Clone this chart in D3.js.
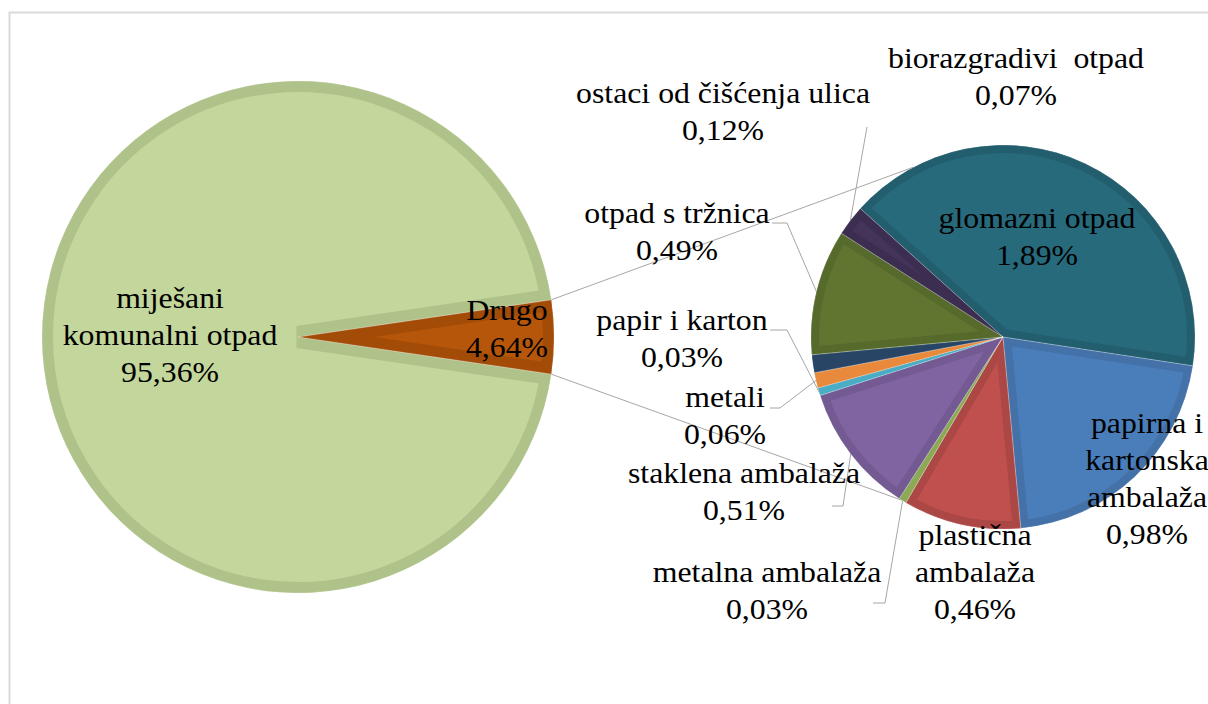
<!DOCTYPE html>
<html>
<head>
<meta charset="utf-8">
<script src="https://cdn.jsdelivr.net/npm/d3@7"></script>
<style>
  html, body { margin: 0; padding: 0; background: #fff; }
  svg { display: block; }
</style>
</head>
<body>
<svg id="chart" width="1208" height="704"></svg>
<script>
// ---------------- DATA ----------------
const mainCategories = ["miješani komunalni otpad", "Drugo"];
const mainValues = [95.36, 4.64];

const subCategories = [
  "glomazni otpad",
  "papirna i kartonska ambalaža",
  "plastična ambalaža",
  "metalna ambalaža",
  "staklena ambalaža",
  "papir i karton",
  "metali",
  "biorazgradivi  otpad",
  "otpad s tržnica",
  "ostaci od čišćenja ulica"
];
const subValues = [1.89, 0.98, 0.46, 0.03, 0.51, 0.03, 0.06, 0.07, 0.49, 0.12];

// ---------------- STYLE / LAYOUT ----------------
const FONT = '"Liberation Serif"';
const mainColors = [["#c3d69b", "#afc28a"], ["#b5560a", "#a24c08"]];
const subColors = [
  ["#276a7c", "#225e6e"],
  ["#4a7ebb", "#4371a8"],
  ["#c0504d", "#ab4744"],
  ["#9bbb59", "#8ca954"],
  ["#8064a2", "#735a92"],
  ["#4bacc6", "#4bacc6"],
  ["#e8893c", "#e8893c"],
  ["#284566", "#284566"],
  ["#5f7530", "#566a2b"],
  ["#44345a", "#3c2e50"]
];

const mainLabelLines = [["miješani", "komunalni otpad"], ["Drugo"]];
const mainLabelPos = [[170, 308], [507, 320]];

const subLabelLines = [
  ["glomazni otpad"],
  ["papirna i", "kartonska", "ambalaža"],
  ["plastična", "ambalaža"],
  ["metalna ambalaža"],
  ["staklena ambalaža"],
  ["papir i karton"],
  ["metali"],
  ["biorazgradivi  otpad"],
  ["otpad s tržnica"],
  ["ostaci od čišćenja ulica"]
];
const subLabelPos = [
  [1037, 228], [1147, 433], [975, 545], [767, 582], [744, 483],
  [682, 330], [725, 407], [1016, 68], [677, 223], [723, 103]
];
// leader: [sliceIndex, labelX, labelY, elbowX]  (null elbow = straight)
const leaders = [
  [9, 867, 127, null],
  [8, 772, 223, 787],
  [5, 770, 330, 787],
  [6, 770, 408, 780],
  [4, 832, 506, 843],
  [3, 873, 603, 885]
];

const fontSize = 30, lineH = 37, textScaleX = 1.06;
const fmt = v => d3.format(".2f")(v).replace(".", ",") + "%";

const svg = d3.select("#chart");

// chart border
svg.append("path")
  .attr("d", "M9.5,704 L9.5,12.5 L1208,12.5")
  .attr("fill", "none").attr("stroke", "#d9d9d9").attr("stroke-width", 2);

const mainC = [298, 337], mainR = 256;
const subC = [1003, 337], subR = 192;

const totalMain = d3.sum(mainValues);
const drugoAng = mainValues[1] / totalMain * 2 * Math.PI;
const mainStart = Math.PI / 2 + drugoAng / 2;
const mainArcs = d3.pie().sort(null).startAngle(mainStart).endAngle(mainStart + 2 * Math.PI)(mainValues);

const subStart = -48 * Math.PI / 180;
const subArcs = d3.pie().sort(null).startAngle(subStart).endAngle(subStart + 2 * Math.PI)(subValues);

let clipId = 0;
function drawPie(arcs, center, r, colors) {
  const g = svg.append("g").attr("transform", `translate(${center[0]},${center[1]})`);
  const arc = d3.arc().innerRadius(0).outerRadius(r);
  const band = Math.round(r * 0.043);
  arcs.forEach((a, i) => {
    const id = "clip" + (clipId++);
    g.append("clipPath").attr("id", id).append("path").attr("d", arc(a));
    g.append("path").attr("d", arc(a))
      .attr("fill", colors[i][0])
      .attr("stroke", colors[i][1])
      .attr("stroke-width", band * 2)
      .attr("clip-path", `url(#${id})`);
  });
  arcs.forEach(a => {
    g.append("path").attr("d", arc(a)).attr("fill", "none")
      .attr("stroke", "rgba(255,255,255,0.35)").attr("stroke-width", 0.6);
  });
  return g;
}

drawPie(mainArcs, mainC, mainR, mainColors);
drawPie(subArcs, subC, subR, subColors);

// point on circle for angle (d3 convention: 0 at 12 o'clock, clockwise)
const pt = (c, r, ang) => [c[0] + r * Math.sin(ang), c[1] - r * Math.cos(ang)];

// connector lines between pies
const drugo = mainArcs[1];
const conTopAng = -27.8 * Math.PI / 180;
const conBotAng = 211.8 * Math.PI / 180;
const lineG = svg.append("g").attr("stroke", "#a6a6a6").attr("stroke-width", 1).attr("fill", "none");
[[pt(mainC, mainR, drugo.startAngle), pt(subC, subR, conTopAng)],
 [pt(mainC, mainR, drugo.endAngle), pt(subC, subR, conBotAng)]].forEach(seg => {
  lineG.append("line")
    .attr("x1", seg[0][0]).attr("y1", seg[0][1])
    .attr("x2", seg[1][0]).attr("y2", seg[1][1]);
});

// leader lines
leaders.forEach(([i, lx, ly, ex]) => {
  const a = subArcs[i];
  const p = pt(subC, subR, (a.startAngle + a.endAngle) / 2);
  const pts = ex === null ? [[lx, ly], p] : [[lx, ly], [ex, ly], p];
  lineG.append("path").attr("d", d3.line()(pts));
});

// labels
function label(lines, value, x, y) {
  const all = lines.concat([fmt(value)]);
  const t = svg.append("text")
    .attr("transform", `translate(${x},0) scale(${textScaleX},1)`)
    .attr("text-anchor", "middle")
    .style("font-family", FONT)
    .style("font-size", fontSize + "px")
    .style("fill", "#000");
  all.forEach((s, k) => {
    t.append("tspan").attr("x", 0).attr("y", y + k * lineH)
      .style("white-space", "pre").text(s);
  });
}
mainArcs.forEach((a, i) => label(mainLabelLines[i], mainValues[i], mainLabelPos[i][0], mainLabelPos[i][1]));
subArcs.forEach((a, i) => label(subLabelLines[i], subValues[i], subLabelPos[i][0], subLabelPos[i][1]));
</script>
</body>
</html>
